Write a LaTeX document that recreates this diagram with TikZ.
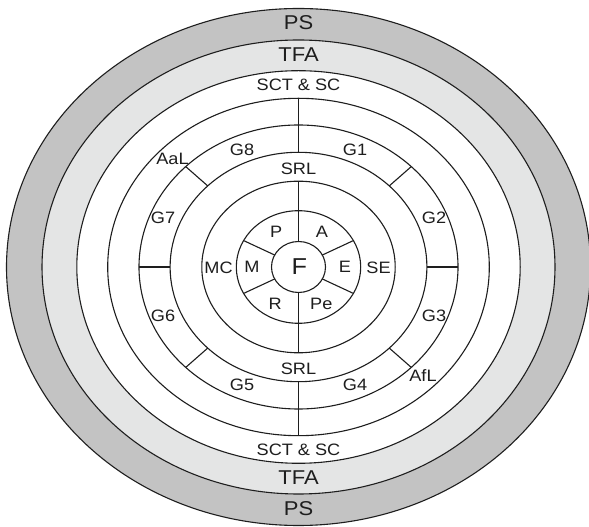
\documentclass[tikz,border=0pt]{standalone}
\usepackage{fontspec}
\setmainfont{Liberation Sans}
\usetikzlibrary{calc}
\definecolor{psgray}{RGB}{195,195,195}
\definecolor{tfagray}{RGB}{228,229,229}
\definecolor{inkc}{RGB}{30,30,30}
\begin{document}
\begin{tikzpicture}[x=1pt,y=1pt,
  ring/.style={draw=inkc, line width=1.1pt},
  spoke/.style={draw=inkc, line width=1.1pt},
  lbl/.style={font=\fontsize{16.5}{18}\selectfont, text=inkc, inner sep=0pt, xscale=1.1},
  biglbl/.style={font=\fontsize{20}{22}\selectfont, text=inkc, inner sep=0pt, xscale=1.1},
  hugelbl/.style={font=\fontsize{23}{25}\selectfont, text=inkc, inner sep=0pt, xscale=1.1},
]
\useasboundingbox (0,0) rectangle (589,527);
\fill[white] (0,0) rectangle (589,527);
\coordinate (O) at (298.5,260);
% filled bands
\filldraw[ring, fill=psgray] (O) ellipse [x radius=292, y radius=258.5];
\filldraw[ring, fill=tfagray] (O) ellipse [x radius=256.5, y radius=227];
\filldraw[ring, fill=white] (O) ellipse [x radius=221.7, y radius=196.3];
% inner rings
\draw[ring] (O) ellipse [x radius=190.8, y radius=168.7];
\draw[ring] (O) ellipse [x radius=159.5, y radius=142];
\draw[ring] (O) ellipse [x radius=128.4, y radius=114.7];
\draw[ring] (O) ellipse [x radius=96.7, y radius=85.8];
\draw[ring] (O) ellipse [x radius=62.2, y radius=56.3];
\draw[ring] (O) ellipse [x radius=27, y radius=25.5];
% points on rings
\coordinate (D90) at ($(O)+(90:190.8 and 168.7)$);
\coordinate (D270) at ($(O)+(270:190.8 and 168.7)$);
\foreach \a in {0,45,90,135,180,225,270,315}{
  \coordinate (E\a) at ($(O)+(\a:159.5 and 142)$);
  \coordinate (F\a) at ($(O)+(\a:128.4 and 114.7)$);
}
\coordinate (G90) at ($(O)+(90:96.7 and 85.8)$);
\coordinate (G270) at ($(O)+(270:96.7 and 85.8)$);
\foreach \a in {28,90,152,208,270,332}{
  \coordinate (H\a) at ($(O)+(\a:62.2 and 56.3)$);
  \coordinate (I\a) at ($(O)+(\a:27 and 25.5)$);
}
% spokes
\draw[spoke] (D90) -- (F90);
\draw[spoke] (D270) -- (F270);
\draw[spoke] (G90) -- (I90);
\draw[spoke] (G270) -- (I270);
\foreach \a in {0,45,135,180,225,315}{
  \draw[spoke] (E\a) -- (F\a);
}
\foreach \a in {28,152,208,332}{
  \draw[spoke] (H\a) -- (I\a);
}
% labels
\node[biglbl] (ps1) at (298.5,504) {PS};
\node[biglbl] (ps2) at (298.5,18) {PS};
\node[biglbl] (tfa1) at (298.5,472.5) {TFA};
\node[biglbl] (tfa2) at (298.5,49) {TFA};
\node[lbl] (sct1) at (298.5,442) {SCT \& SC};
\node[lbl] (sct2) at (298.5,77.5) {SCT \& SC};
\node[lbl] (srl1) at (298.5,358) {SRL};
\node[lbl] (srl2) at (298.5,158.5) {SRL};
\node[lbl] (g8) at (242,377) {G8};
\node[lbl] (g1) at (355,377) {G1};
\node[lbl] (g7) at (163,309) {G7};
\node[lbl] (g2) at (434,309) {G2};
\node[lbl] (g6) at (163,211) {G6};
\node[lbl] (g3) at (434,211) {G3};
\node[lbl] (g5) at (242,142) {G5};
\node[lbl] (g4) at (355,142) {G4};
\node[lbl] (aal) at (172.5,368.5) {AaL};
\node[lbl] (afl) at (423,151) {AfL};
\node[lbl] (mc) at (218.5,259.5) {MC};
\node[lbl] (se) at (378.5,259.5) {SE};
\node[lbl] (m) at (252,260) {M};
\node[lbl] (e) at (345,260) {E};
\node[lbl] (p) at (276.2,295) {P};
\node[lbl] (a) at (322,295) {A};
\node[lbl] (r) at (275.3,223) {R};
\node[lbl] (pe) at (321.3,223) {Pe};
\node[hugelbl] (f) at (299.3,260.3) {F};
\end{tikzpicture}
\end{document}
